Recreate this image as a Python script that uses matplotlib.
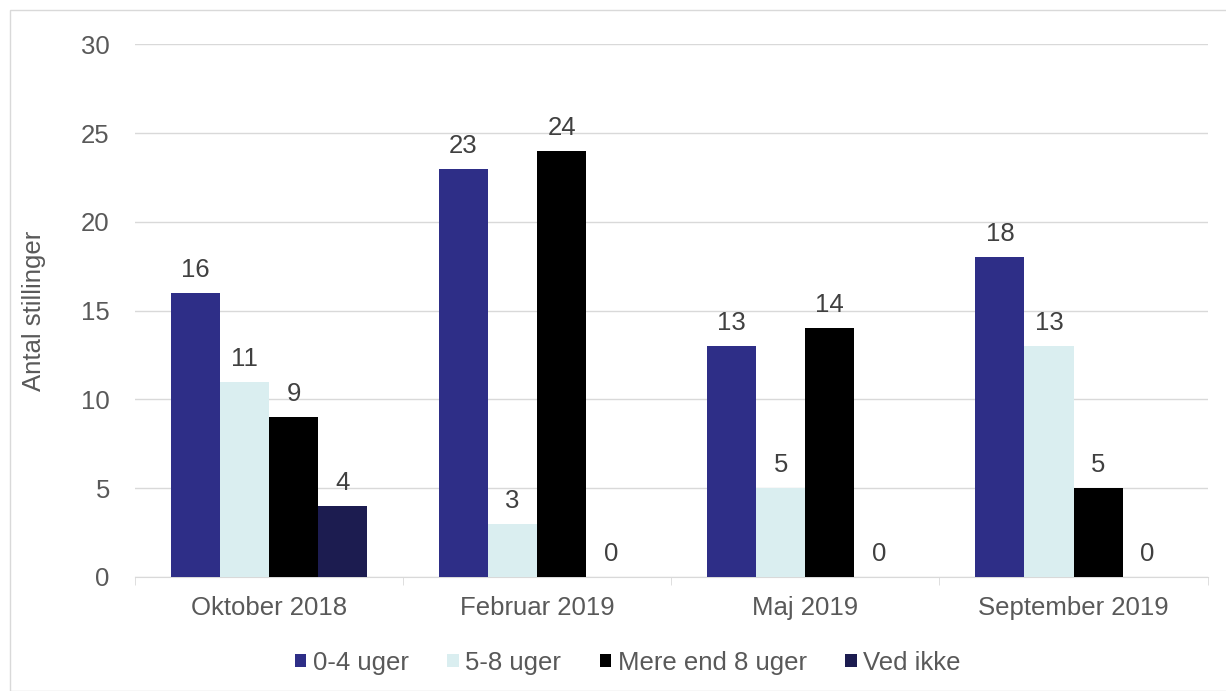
import matplotlib.pyplot as plt
import numpy as np
from matplotlib.patches import Rectangle

categories = ["Oktober 2018", "Februar 2019", "Maj 2019", "September 2019"]
series_names = ["0-4 uger", "5-8 uger", "Mere end 8 uger", "Ved ikke"]
uger_0_4 = [16, 23, 13, 18]
uger_5_8 = [11, 3, 5, 13]
mere_end_8 = [9, 24, 14, 5]
ved_ikke = [4, 0, 0, 0]
series = [uger_0_4, uger_5_8, mere_end_8, ved_ikke]
colors = ["#2E2E87", "#DAEEF0", "#000000", "#1C1C50"]

plt.rcParams["font.family"] = ["Liberation Sans", "DejaVu Sans"]
text_color = "#595959"
grid_color = "#D9D9D9"
fs = 18.5

fig = plt.figure(figsize=(12.26, 6.91), dpi=100)
ax = fig.add_axes([0.110, 0.165, 0.875, 0.771])

x = np.arange(len(categories))
width = 0.183
for i, (name, vals) in enumerate(zip(series_names, series)):
    offs = (i - 1.5) * width
    bars = ax.bar(x + offs, vals, width, color=colors[i], label=name, zorder=3)
    for b, v in zip(bars, vals):
        ax.annotate(str(v), (b.get_x() + b.get_width() / 2, v),
                    xytext=(0, 11.5), textcoords="offset points",
                    ha="center", va="baseline", fontsize=fs, color="#404040")

ax.set_ylim(0, 30)
ax.set_yticks(range(0, 31, 5))
ax.set_xlim(-0.5, 3.5)
ax.set_xticks(x)
ax.set_xticklabels(categories)
ax.set_xticks(np.arange(-0.5, 4, 1), minor=True)
ax.tick_params(axis="x", which="major", length=0, pad=14, labelsize=fs, labelcolor=text_color)
ax.tick_params(axis="x", which="minor", length=6, color=grid_color)
ax.tick_params(axis="y", length=0, pad=18, labelsize=fs, labelcolor=text_color)
ax.yaxis.grid(True, color=grid_color, linewidth=1, zorder=0)
for s in ["top", "right", "left"]:
    ax.spines[s].set_visible(False)
ax.spines["bottom"].set_color(grid_color)
ax.set_ylabel("Antal stillinger", fontsize=fs, color=text_color)
ax.yaxis.set_label_coords(-0.083, 0.5)

fig.legend(loc="center", bbox_to_anchor=(0.512, 0.041), ncol=4, frameon=False,
           fontsize=fs, labelcolor=text_color, handlelength=0.45, handleheight=0.45,
           handletextpad=0.25, columnspacing=1.5)

fig.patches.append(Rectangle((10 / 1226, 0), 1.0, 1 - 10 / 691, transform=fig.transFigure,
                             fill=False, edgecolor=grid_color, linewidth=1))

fig.savefig("out.png", dpi=100, facecolor="white")
